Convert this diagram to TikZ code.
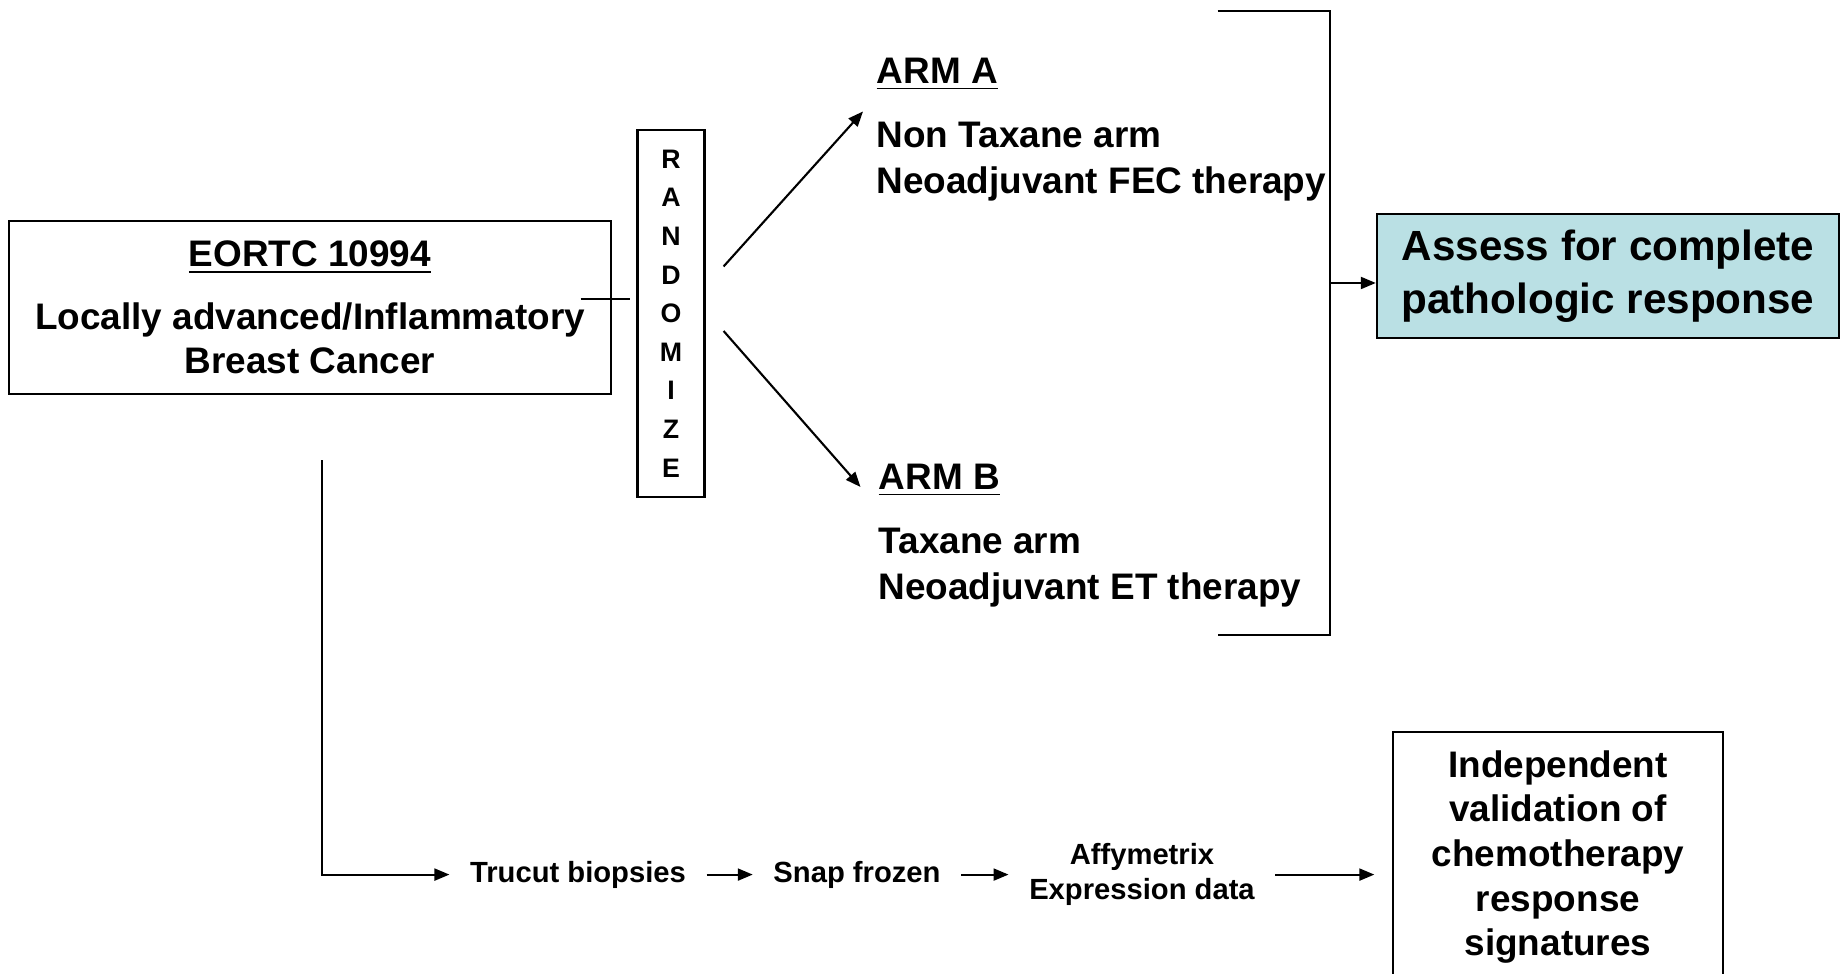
\documentclass[tikz,border=0pt]{standalone}
\usepackage{fontspec}
\setmainfont{Liberation Sans}
\usepackage{xcolor}
\usetikzlibrary{arrows.meta,calc}

\definecolor{assessblue}{RGB}{186,224,228}

\tikzset{
  box/.style={draw, line width=0.6pt, inner sep=0pt, align=center,
    font=\bfseries\fontsize{10.5}{12.7}\selectfont},
  armtext/.style={anchor=west, inner sep=0pt, align=left,
    font=\bfseries\fontsize{10.5}{13}\selectfont},
  stagetext/.style={inner xsep=0.2cm, inner ysep=0pt, align=center,
    font=\bfseries\fontsize{8.3}{10}\selectfont},
  flow/.style={line width=0.6pt, -{Triangle[length=1.5mm,width=1.2mm]}},
}

\begin{document}
\begin{tikzpicture}[x=0.01cm, y=-0.01cm]
    \useasboundingbox (0,0) rectangle (1841,974);
    \clip (0,0) rectangle (1841,974);

    % Study population
    \node[box, minimum width=6.01cm, minimum height=1.73cm] (eortc) at (310,307.5)
        {\underline{EORTC 10994}\\[0.18cm]Locally advanced/Inflammatory\\Breast Cancer};

    % Randomisation
    \node[box, minimum width=0.67cm, minimum height=3.66cm,
        font=\bfseries\fontsize{7.6}{10.98}\selectfont] (rand) at (671,313.5)
        {R\\A\\N\\D\\O\\M\\I\\Z\\E};

    % Treatment arms
    \node[armtext] (armA) at (876,129.5)
        {\underline{ARM A}\\[0.18cm]Non Taxane arm\\Neoadjuvant FEC therapy};
    \node[armtext] (armB) at (878,535.5)
        {\underline{ARM B}\\[0.18cm]Taxane arm\\Neoadjuvant ET therapy};

    % Outcome
    \node[box, fill=assessblue, minimum width=4.62cm, minimum height=1.24cm,
        font=\bfseries\fontsize{12}{14.9}\selectfont] (assess) at (1608,276)
        {Assess for complete\\pathologic response};

    % Validation set
    \node[box, minimum width=3.29cm, minimum height=2.5cm] (indep) at (1558,857)
        {Independent\\validation of\\chemotherapy\\response\\signatures};

    % Tissue processing
    \node[stagetext] (trucut) at (578,874.6) {Trucut biopsies};
    \node[stagetext] (snap) at (857,874.6) {Snap frozen};
    \node[stagetext] (affy) at (1142,874.6) {Affymetrix\\Expression data};

    % Connectors
    \coordinate (forkA) at ($(rand.east)+(18,-47)$);
    \coordinate (forkB) at ($(rand.east)+(18,17.5)$);
    \coordinate (tissue) at ($(eortc.south)+(12,65)$);
    \coordinate (join) at (1330,283);

    \draw[line width=0.6pt] ($(eortc.east)+(-31,-8.5)$) -- ++(49,0);
    \draw[flow] (forkA) -- ($(armA.west)+(-13,-18)$);
    \draw[flow] (forkB) -- ($(armB.west)+(-17.5,-48.5)$);
    \draw[line width=0.6pt] (1217.5,10.6) -| (1330,635) -- (1217.5,635);
    \draw[flow] (join) -- (join -| assess.west);

    \draw[flow] (tissue) |- (trucut.west);
    \draw[flow] (trucut) -- (snap);
    \draw[flow] (snap) -- (affy);
    \draw[flow, shorten >=0.18cm] (affy.east) -- (affy.east -| indep.west);

\end{tikzpicture}
\end{document}
